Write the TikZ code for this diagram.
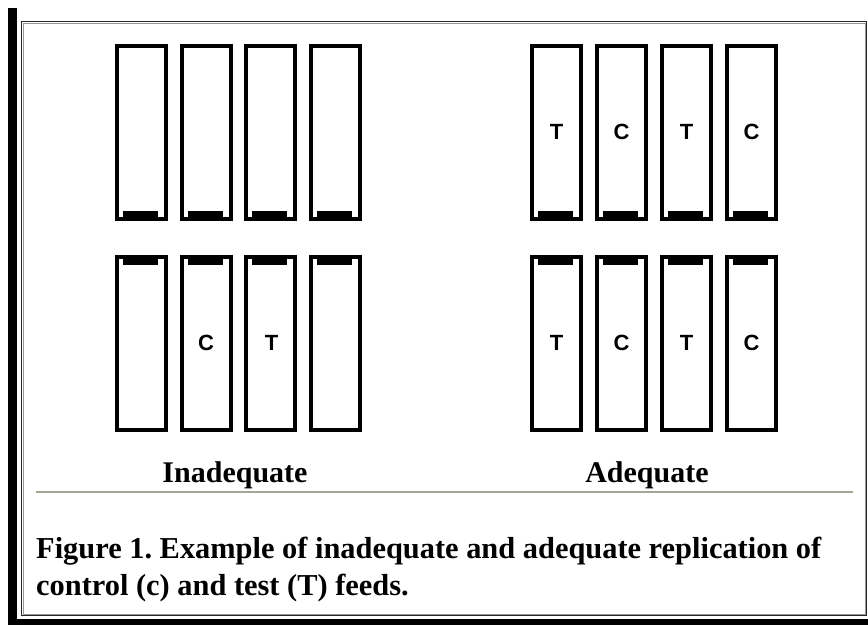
\documentclass[tikz,border=0pt]{standalone}
\usepackage{fontspec}
\setmainfont{Liberation Serif}
\newfontfamily\penfont{Liberation Sans}
\usetikzlibrary{calc}
\definecolor{rulegrey}{RGB}{168,164,150}
\definecolor{framedark}{RGB}{40,40,40}
\definecolor{framelight}{RGB}{150,150,150}
\begin{document}
\frenchspacing
\begin{tikzpicture}[x=1pt,y=-1pt,
  penbox/.style={draw=black, line width=4pt, rectangle, inner sep=0pt,
    minimum width=49pt, minimum height=172.5pt, anchor=north west},
  penletter/.style={font=\penfont\bfseries\fontsize{22}{22}\selectfont, inner sep=0pt},
  biglabel/.style={font=\bfseries\fontsize{30}{36}\selectfont, inner sep=0pt, anchor=base},
  captext/.style={font=\bfseries\fontsize{30.4}{36}\selectfont, inner sep=0pt, anchor=base west},
  bar/.style={fill=black}
]
\useasboundingbox (0,0) rectangle (868,625);
% page frame
\fill (8,8) rectangle (17,625);
\fill (8,619) rectangle (868,625);
\draw[line width=1.2pt, framedark] (21.6,21.6) rectangle (866.4,615.4);
\draw[line width=0.9pt, framelight] (23,23) rectangle (865,614);

% left group (inadequate)
\foreach \i/\x in {1/113,2/177.5,3/242,4/306.5}{
  \node[penbox] (lt\i) at (\x+2,44) {};
  \fill[bar] ($(lt\i.south west)+(8,-9.5)$) rectangle ($(lt\i.south west)+(43,-2)$);
  \node[penbox] (lb\i) at (\x+2,255) {};
  \fill[bar] ($(lb\i.north west)+(8,2)$) rectangle ($(lb\i.north west)+(43,9.5)$);
}
% right group (adequate)
\foreach \i/\x in {1/528,2/593,3/658,4/723}{
  \node[penbox] (rt\i) at (\x+2,44) {};
  \fill[bar] ($(rt\i.south west)+(8,-9.5)$) rectangle ($(rt\i.south west)+(43,-2)$);
  \node[penbox] (rb\i) at (\x+2,255) {};
  \fill[bar] ($(rb\i.north west)+(8,2)$) rectangle ($(rb\i.north west)+(43,9.5)$);
}

% letters
\node[penletter] (lc) at (lb2.center) {C};
\node[penletter] (lt) at ($(lb3.center)+(1,0)$) {T};
\node[penletter] (rtt1) at (rt1.center) {T};
\node[penletter] (rtc2) at (rt2.center) {C};
\node[penletter] (rtt3) at (rt3.center) {T};
\node[penletter] (rtc4) at (rt4.center) {C};
\node[penletter] (rbt1) at (rb1.center) {T};
\node[penletter] (rbc2) at (rb2.center) {C};
\node[penletter] (rbt3) at (rb3.center) {T};
\node[penletter] (rbc4) at (rb4.center) {C};

% group labels
\node[biglabel] (inad) at (235,482) {Inadequate};
\node[biglabel] (adeq) at (647,482) {Adequate};

% rule
\draw[line width=2pt, rulegrey] (36,492) -- (853,492);

% caption
\node[captext] (cap1) at (36,558) {Figure 1. Example of inadequate and adequate replication of};
\node[captext] (cap2) at (36,595) {control (c) and test (T) feeds.};
\end{tikzpicture}
\end{document}
